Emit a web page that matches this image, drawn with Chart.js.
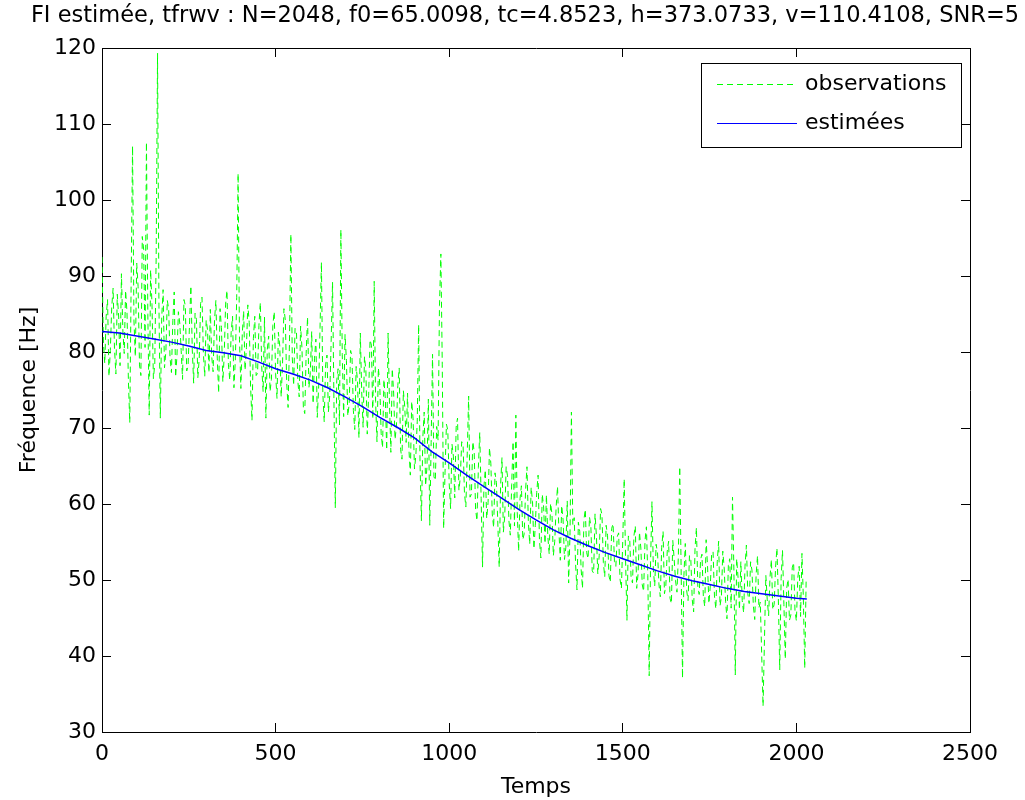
<!DOCTYPE html>
<html>
<head>
<meta charset="utf-8">
<script src="https://cdn.jsdelivr.net/npm/chart.js@4.4.0/dist/chart.umd.min.js"></script>
<style>
  body { margin: 0; background: #fff; }
  canvas { display: block; }
</style>
</head>
<body>
<canvas id="tfrChart" width="1025" height="800"></canvas>
<script>
const titleText = "FI estimée, tfrwv : N=2048, f0=65.0098, tc=4.8523, h=373.0733, v=110.4108, SNR=5";

// observations, one value every 4 samples (t = 0, 4, 8, ... 2028)
const obsStep = 4;
const obsValues = [
  92.5, 81.3, 78.5, 84.7, 86.9, 76.8, 80.2, 85.9, 88.4, 80.4, 77.1, 87.6, 84.6, 78.2, 90.3, 82.9, 79.8, 88.1, 85.2, 76.3,
  70.7, 89.4, 107.1, 84.2, 79.4, 91.7, 88.6, 78.3, 76.9, 95.2, 93.5, 80.6, 107.6, 84.9, 71.7, 90.8, 86.3, 76.5, 78.4, 92.6,
  119.3, 86.2, 71.3, 84.5, 88.2, 77.9, 80.1, 86.8, 85.7, 79.2, 77.3, 84.1, 87.9, 76.7, 79.6, 85.3, 83.8, 80.2, 76.4, 86.9,
  86.1, 77.5, 78.2, 83.6, 88.7, 80.3, 75.9, 85.1, 84.3, 76.6, 79.1, 86.4, 87.2, 79.8, 76.8, 84.2, 82.9, 77.3, 85.6, 79.4,
  77.4, 84.1, 86.8, 79.2, 74.6, 85.7, 83.2, 76.1, 79.5, 86.3, 88.1, 78.4, 76.3, 82.6, 84.7, 75.3, 78.9, 87.2, 103.5, 81.6,
  75.2, 82.4, 85.4, 77.6, 80.6, 86.2, 83.9, 75.4, 71.0, 81.8, 84.7, 76.9, 77.2, 83.5, 86.5, 78.1, 74.8, 84.6, 71.3, 80.3,
  82.1, 74.8, 76.4, 83.5, 85.3, 77.2, 73.9, 82.6, 80.8, 74.1, 78.5, 85.7, 84.2, 75.9, 72.7, 81.4, 95.5, 79.3, 75.6, 83.1,
  82.8, 76.2, 74.1, 83.4, 80.5, 72.6, 71.9, 79.8, 84.6, 75.3, 77.3, 82.7, 73.2, 79.1, 81.7, 71.4, 75.4, 83.2, 91.8, 74.6,
  70.8, 78.3, 79.6, 72.1, 74.3, 81.4, 89.2, 73.6, 59.5, 76.2, 77.8, 70.4, 96.1, 79.7, 71.5, 82.3, 78.9, 71.6, 73.2, 80.2,
  79.4, 72.3, 69.8, 78.1, 76.2, 68.7, 82.5, 74.8, 70.1, 79.4, 77.6, 69.2, 74.3, 81.6, 80.9, 71.2, 89.3, 73.5, 68.2, 77.9,
  75.8, 69.3, 67.4, 76.4, 73.9, 67.1, 82.5, 73.2, 66.8, 77.8, 74.6, 68.5, 70.2, 75.6, 77.9, 67.2, 65.9, 74.9, 72.8, 68.1,
  74.6, 67.2, 63.8, 73.5, 71.2, 64.6, 66.4, 70.9, 83.6, 65.3, 57.8, 68.7, 72.1, 62.4, 64.9, 73.8, 57.2, 68.1, 79.7, 63.6,
  63.1, 70.2, 68.4, 86.1, 92.9, 78.4, 56.8, 64.2, 70.5, 69.7, 62.7, 59.4, 67.9, 66.3, 60.8, 70.1, 71.3, 61.8, 63.5, 68.2,
  67.8, 61.4, 59.6, 66.7, 74.2, 60.9, 61.3, 68.2, 66.9, 59.3, 57.8, 64.8, 69.4, 60.7, 51.7, 62.3, 64.5, 58.1, 60.2, 67.4,
  65.3, 58.7, 56.9, 64.1, 62.8, 57.5, 51.7, 62.4, 66.1, 56.3, 58.4, 64.9, 63.7, 57.8, 55.9, 62.6, 68.2, 57.1, 71.7, 58.9,
  53.8, 60.7, 62.4, 55.3, 56.1, 61.8, 64.9, 57.6, 54.7, 62.2, 60.3, 54.1, 57.2, 61.5, 63.8, 55.2, 52.9, 61.3, 59.6, 54.8,
  61.2, 55.8, 53.4, 60.1, 58.7, 53.2, 55.1, 59.6, 62.3, 56.4, 52.6, 59.8, 57.9, 52.7, 54.3, 60.4, 49.6, 56.2, 72.1, 57.3,
  58.2, 52.1, 48.7, 57.6, 56.4, 51.4, 48.9, 57.9, 59.3, 53.6, 52.8, 58.3, 57.1, 51.2, 50.9, 58.7, 55.8, 50.8, 53.2, 59.4,
  58.6, 52.3, 50.4, 57.2, 55.9, 50.6, 49.7, 56.8, 57.4, 52.4, 51.8, 55.7, 56.2, 50.1, 48.9, 55.4, 63.3, 52.6, 44.7, 55.8,
  55.3, 50.2, 49.6, 55.8, 57.1, 48.9, 50.8, 56.3, 54.2, 49.4, 48.5, 55.2, 57.0, 50.6, 37.4, 52.4, 60.3, 51.3, 49.2, 54.7,
  53.6, 49.5, 47.8, 54.3, 56.4, 48.2, 49.3, 53.8, 55.1, 47.6, 46.9, 55.2, 52.7, 49.9, 48.4, 53.1, 64.9, 51.4, 37.1, 50.6,
  54.8, 48.6, 47.3, 53.2, 52.6, 47.4, 45.8, 54.1, 56.9, 49.2, 48.1, 52.7, 53.4, 47.8, 46.5, 55.3, 51.9, 46.9, 49.2, 53.6,
  53.7, 47.9, 46.2, 52.4, 55.1, 46.6, 47.8, 53.8, 51.6, 47.2, 44.9, 51.9, 52.8, 46.3, 60.9, 51.2, 37.5, 52.8, 50.3, 46.1,
  52.4, 47.3, 45.7, 51.8, 54.6, 48.2, 46.9, 52.4, 51.3, 46.6, 44.8, 50.7, 53.2, 46.3, 47.1, 40.2, 33.4, 42.1, 50.6, 47.4,
  45.3, 50.4, 52.7, 46.1, 46.8, 51.7, 54.2, 47.5, 38.2, 50.2, 53.9, 46.8, 39.6, 48.9, 50.1, 44.7, 45.4, 51.6, 52.3, 45.9,
  44.6, 50.3, 51.8, 45.2, 53.5, 47.6, 38.4, 49.8
];

// estimated IF
const estTimes = [0, 50, 100, 150, 200, 250, 300, 350, 400, 450, 500, 550, 600, 650, 700,
  750, 800, 850, 900, 950, 1000, 1050, 1100, 1150, 1200, 1250, 1300, 1350, 1400, 1450,
  1500, 1550, 1600, 1650, 1700, 1750, 1800, 1850, 1900, 1950, 2000, 2030];
const estValues = [82.7, 82.5, 82.1, 81.7, 81.3, 80.8, 80.2, 79.9, 79.5, 78.7, 77.8, 77.1, 76.3, 75.3, 74.1,
  72.8, 71.4, 70.1, 68.7, 66.9, 65.4, 63.8, 62.3, 60.8, 59.3, 57.9, 56.6, 55.5, 54.5, 53.6,
  52.8, 52.0, 51.2, 50.5, 49.9, 49.4, 48.9, 48.5, 48.2, 47.9, 47.6, 47.5];

const xTicks = [0, 500, 1000, 1500, 2000, 2500];
const yTicks = [30, 40, 50, 60, 70, 80, 90, 100, 110, 120];

const FONT = "'DejaVu Sans', sans-serif";

const obsData = obsValues.map((v, i) => ({ x: i * obsStep, y: v }));
const estData = estTimes.map((t, i) => ({ x: t, y: estValues[i] }));

// axes with inward ticks (negative tick length), matlab style box
function axis(pos, ticksList, showLabels, size, pad, extra) {
  const horiz = pos === "top" || pos === "bottom";
  return Object.assign({
    type: "linear",
    position: pos,
    min: ticksList[0],
    max: ticksList[ticksList.length - 1],
    afterBuildTicks: (s) => { s.ticks = ticksList.map(v => ({ value: v })); },
    afterFit: (s) => { if (horiz) s.height = size; else s.width = size; },
    grid: { drawOnChartArea: false, drawTicks: true, tickLength: -9, color: "#000", lineWidth: 1 },
    border: { display: true, color: "#000", width: 1 },
    ticks: {
      display: showLabels, color: "#000", padding: pad,
      font: { family: FONT, size: 22 },
      callback: (v) => String(v)
    }
  }, extra || {});
}

const whiteBg = {
  id: "whiteBg",
  beforeDraw(chart) {
    const c = chart.ctx;
    c.save();
    c.fillStyle = "#fff";
    c.fillRect(0, 0, chart.width, chart.height);
    c.restore();
  }
};

const topTitle = {
  id: "topTitle",
  afterDraw(chart) {
    const c = chart.ctx;
    c.save();
    c.font = "22.5px " + FONT;
    c.fillStyle = "#000";
    c.textAlign = "center";
    c.textBaseline = "alphabetic";
    c.fillText(titleText, 525, 22);
    c.restore();
  }
};

const boxLegend = {
  id: "boxLegend",
  afterDraw(chart) {
    const c = chart.ctx;
    const x0 = 701, y0 = 63, w = 260, h = 84;
    c.save();
    c.fillStyle = "#fff";
    c.fillRect(x0, y0, w, h);
    c.strokeStyle = "#000";
    c.lineWidth = 1;
    c.strokeRect(x0 + 0.5, y0 + 0.5, w, h);
    const rows = [84, 123];
    const order = [1, 0];
    c.font = "22px " + FONT;
    c.textBaseline = "middle";
    order.forEach((di, k) => {
      const ds = chart.data.datasets[di];
      const y = rows[k] + 0.5;
      c.strokeStyle = ds.borderColor;
      c.lineWidth = 1;
      c.setLineDash(ds.borderDash || []);
      c.beginPath();
      c.moveTo(717, y);
      c.lineTo(797, y);
      c.stroke();
      c.setLineDash([]);
      c.fillStyle = "#000";
      c.fillText(ds.label, 805, rows[k]);
    });
    c.restore();
  }
};

new Chart(document.getElementById("tfrChart"), {
  type: "line",
  data: {
    datasets: [
      {
        label: "estimées",
        data: estData,
        borderColor: "#0000ff",
        borderWidth: 1.5,
        pointRadius: 0,
        tension: 0,
        order: 0
      },
      {
        label: "observations",
        data: obsData,
        borderColor: "#00ff00",
        borderWidth: 1,
        borderDash: [6, 4],
        pointRadius: 0,
        tension: 0,
        order: 1
      }
    ]
  },
  options: {
    responsive: false,
    animation: false,
    devicePixelRatio: 1,
    layout: { padding: 0 },
    plugins: { legend: { display: false }, tooltip: { enabled: false }, title: { display: false } },
    scales: {
      x: axis("bottom", xTicks, true, 68, 18, {
        title: { display: true, text: "Temps", color: "#000", font: { family: FONT, size: 22 }, padding: 0 }
      }),
      x2: axis("top", xTicks, false, 48, 15),
      y: axis("left", yTicks, true, 102, 15, {
        title: { display: true, text: "Fréquence [Hz]", color: "#000", font: { family: FONT, size: 22 }, padding: { top: 16, bottom: 0 } }
      }),
      y2: axis("right", yTicks, false, 55, 15)
    }
  },
  plugins: [whiteBg, topTitle, boxLegend]
});
</script>
</body>
</html>
